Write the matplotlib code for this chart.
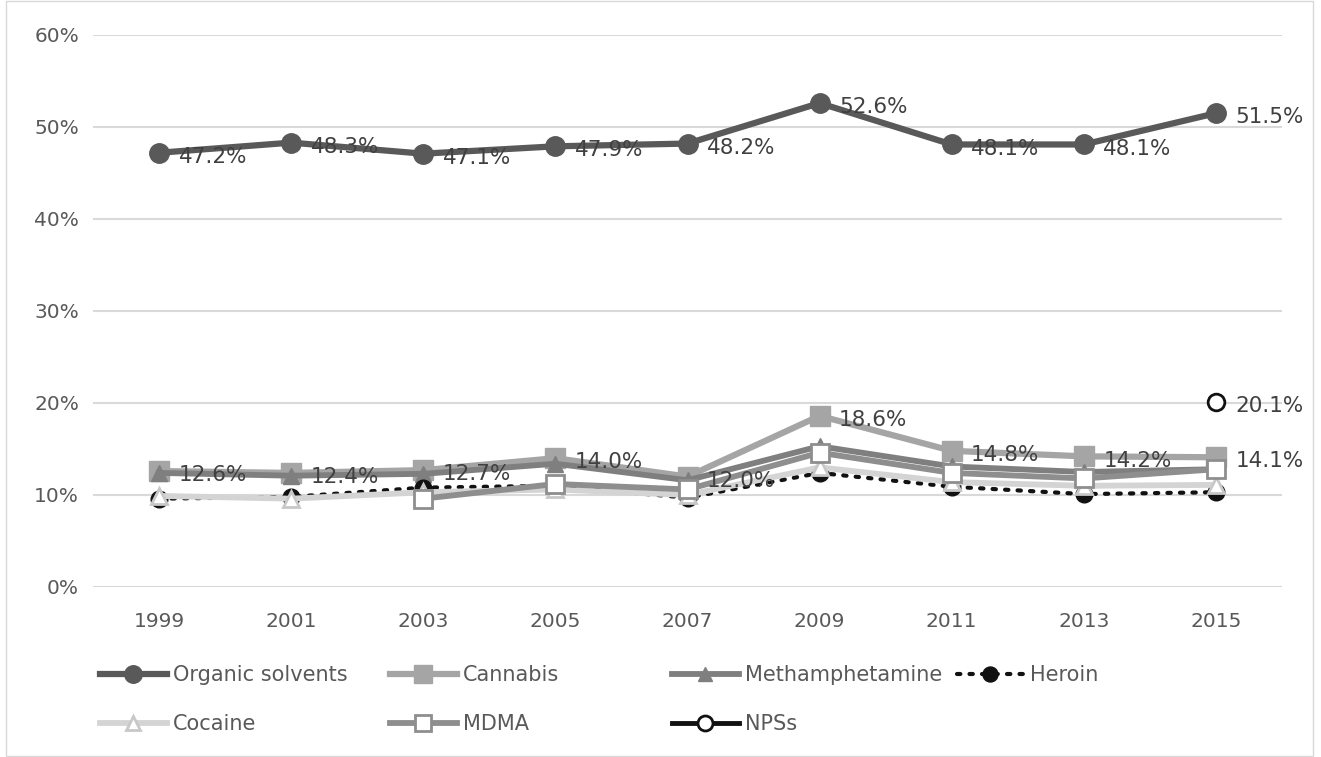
import numpy as np
import matplotlib
matplotlib.use("Agg")
import matplotlib.pyplot as plt
from matplotlib.patches import Rectangle

plt.rcParams['font.family'] = ['DejaVu Sans']

years = ['1999', '2001', '2003', '2005', '2007', '2009', '2011', '2013', '2015']
organic = [47.2, 48.3, 47.1, 47.9, 48.2, 52.6, 48.1, 48.1, 51.5]
cannabis = [12.6, 12.4, 12.7, 14.0, 12.0, 18.6, 14.8, 14.2, 14.1]
meth = [12.4, 12.1, 12.3, 13.4, 11.6, 15.3, 13.1, 12.5, 12.8]
heroin = [9.6, 9.8, 10.8, 11.0, 9.7, 12.4, 10.9, 10.1, 10.3]
cocaine = [9.9, 9.6, 10.3, 10.6, 10.0, 13.0, 11.4, 11.0, 11.1]
mdma = [np.nan, np.nan, 9.6, 11.2, 10.6, 14.6, 12.4, 11.8, 12.8]
nps = [np.nan, np.nan, np.nan, np.nan, np.nan, np.nan, np.nan, np.nan, 20.1]

x = np.arange(len(years))

fig = plt.figure(figsize=(13.21, 7.57), dpi=100)
ax = fig.add_axes([93/1321, (757-587)/757, (1282-93)/1321, (587-35)/757])

h_org, = ax.plot(x, organic, color='#595959', lw=4.5, marker='o', ms=14, label='Organic solvents', zorder=3)
h_can, = ax.plot(x, cannabis, color='#a5a5a5', lw=4.5, marker='s', ms=14, label='Cannabis', zorder=3)
h_met, = ax.plot(x, meth, color='#7f7f7f', lw=4.2, marker='^', ms=11, label='Methamphetamine', zorder=3)
h_her, = ax.plot(x, heroin, color='#111111', lw=3, ls=(0, (0.8, 2.2)), dash_capstyle='round',
                 marker='o', ms=12, label='Heroin', zorder=3)
h_coc, = ax.plot(x, cocaine, color='#d4d4d4', lw=4.2, marker='^', ms=11, mfc='white', mec='#c8c8c8',
                 mew=2, label='Cocaine', zorder=3)
h_mdm, = ax.plot(x, mdma, color='#8e8e8e', lw=4.2, marker='s', ms=13, mfc='white', mec='#8e8e8e',
                 mew=2, label='MDMA', zorder=3)
h_nps, = ax.plot(x, nps, color='#111111', lw=3.5, marker='o', ms=12, mfc='white', mec='#111111',
                 mew=2, label='NPSs', zorder=3)

# data labels
for series in (organic, cannabis, nps):
    for xi, v in zip(x, series):
        if np.isnan(v):
            continue
        ax.annotate(f'{v:.1f}%', (xi, v), xytext=(14, -3), textcoords='offset points',
                    ha='left', va='center', fontsize=15.5, color='#404040', zorder=4)

ax.set_xlim(-0.5, len(years) - 0.5)
ax.set_ylim(0, 60)
ax.set_xticks(x)
ax.set_xticklabels(years)
ax.set_yticks(np.arange(0, 61, 10))
ax.set_yticklabels([f'{v}%' for v in range(0, 61, 10)])
ax.tick_params(axis='both', length=0, labelsize=14.5, labelcolor='#595959')
ax.tick_params(axis='x', pad=18)
ax.tick_params(axis='y', pad=10)
ax.grid(axis='y', color='#d9d9d9', lw=1.5, zorder=0)
ax.set_axisbelow(True)
for s in ax.spines.values():
    s.set_visible(False)

# legend: four columns placed like the original
leg_kw = dict(frameon=False, fontsize=15, handlelength=3.2, handletextpad=0.3,
              labelspacing=1.4, borderaxespad=0, borderpad=0, labelcolor='#595959',
              markerscale=0.9)
cols = [([h_org, h_coc], 100), ([h_can, h_mdm], 390), ([h_met, h_nps], 672), ([h_her], 957)]
for handles, px in cols:
    fig.legend(handles=handles, loc='upper left',
               bbox_to_anchor=(px/1321, 1 - 665/757), **leg_kw)

fig.patches.append(Rectangle((6/1321, 1/757), 1307/1321, 755/757, transform=fig.transFigure,
                             fill=False, ec='#d9d9d9', lw=1))

fig.savefig('out.png', dpi=100)
